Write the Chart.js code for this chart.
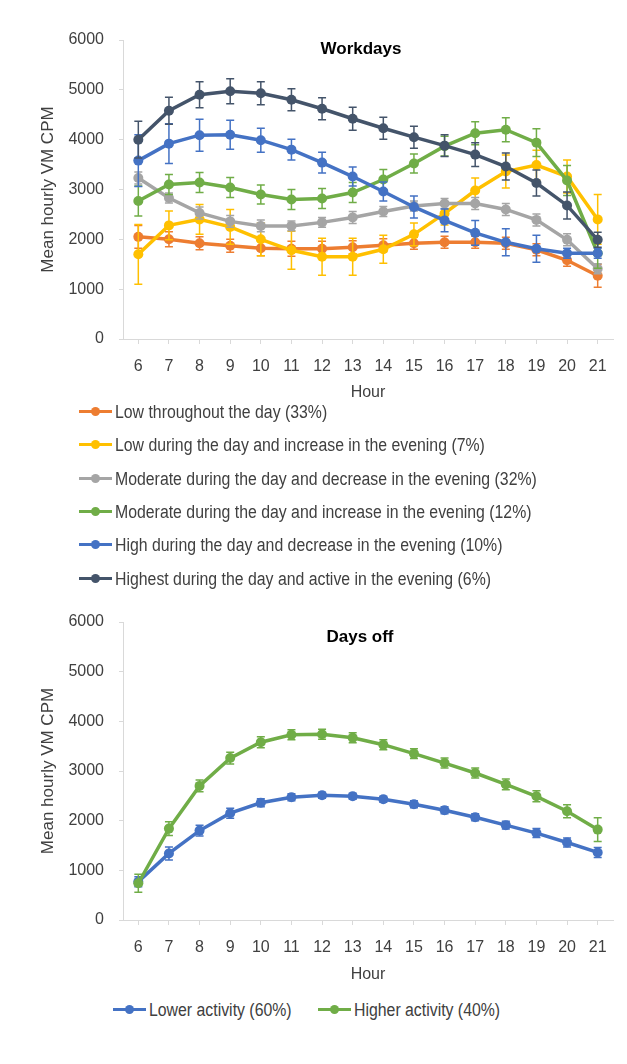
<!DOCTYPE html>
<html>
<head>
<meta charset="utf-8">
<script src="https://cdn.jsdelivr.net/npm/chart.js@4.4.1/dist/chart.umd.min.js"></script>
<style>
  body { margin: 0; background: #fff; width: 627px; height: 1064px; position: relative; overflow: hidden; font-family: "Liberation Sans", Arial, sans-serif; }
  canvas { position: absolute; left: 0; }
  .item { position: absolute; height: 20px; }
  .swatch { position: absolute; left: 0; top: 8px; width: 33px; height: 3px; }
  .dot { position: absolute; top: 5px; width: 9px; height: 9px; border-radius: 50%; }
  .label { position: absolute; top: 0; font-size: 18px; line-height: 20px; color: #404040; white-space: nowrap; transform: scaleX(0.88); transform-origin: left center; }
</style>
</head>
<body>
<canvas id="workChart" width="627" height="404" style="top:0"></canvas>
<div id="workLegend"></div>
<canvas id="offChart" width="627" height="406" style="top:580px"></canvas>
<div id="offLegend"></div>

<script>
// Data
const hours = ['6', '7', '8', '9', '10', '11', '12', '13', '14', '15', '16', '17', '18', '19', '20', '21'];

const workLabels = [
    'Low throughout the day (33%)',
    'Low during the day and increase in the evening (7%)',
    'Moderate during the day and decrease in the evening (32%)',
    'Moderate during the day and increase in the evening (12%)',
    'High during the day and decrease in the evening (10%)',
    'Highest during the day and active in the evening (6%)'
];
const lowAll = [2050, 2000, 1920, 1870, 1820, 1810, 1810, 1840, 1880, 1920, 1940, 1940, 1920, 1790, 1580, 1270];
const lowAllErr = [230, 150, 130, 130, 150, 150, 150, 130, 130, 120, 120, 120, 120, 120, 120, 230];
const lowEve = [1700, 2280, 2400, 2250, 2000, 1780, 1650, 1650, 1800, 2100, 2520, 2980, 3360, 3490, 3260, 2400];
const lowEveErr = [600, 290, 300, 350, 330, 380, 370, 370, 280, 230, 230, 250, 330, 300, 330, 500];
const modDec = [3230, 2830, 2530, 2360, 2270, 2270, 2340, 2440, 2560, 2670, 2720, 2720, 2600, 2390, 1990, 1410];
const modDecErr = [120, 100, 120, 120, 120, 100, 100, 120, 100, 100, 100, 120, 120, 120, 120, 100];
const modInc = [2770, 3100, 3140, 3040, 2900, 2800, 2820, 2940, 3200, 3520, 3870, 4130, 4200, 3940, 3180, 1720];
const modIncErr = [300, 200, 200, 200, 190, 200, 200, 200, 200, 190, 200, 230, 240, 280, 300, 300];
const highDec = [3580, 3920, 4090, 4100, 3990, 3800, 3540, 3260, 2960, 2650, 2380, 2130, 1940, 1810, 1720, 1720];
const highDecErr = [520, 400, 320, 290, 240, 210, 210, 190, 190, 220, 230, 250, 270, 270, 100, 100];
const highest = [4000, 4580, 4900, 4970, 4930, 4800, 4620, 4420, 4230, 4050, 3880, 3700, 3460, 3130, 2680, 1990];
const highestErr = [370, 270, 260, 250, 230, 220, 220, 230, 220, 220, 220, 240, 270, 260, 270, 150];

const offLabels = ['Lower activity (60%)', 'Higher activity (40%)'];
const lower = [770, 1340, 1800, 2150, 2360, 2470, 2510, 2490, 2430, 2330, 2210, 2070, 1910, 1750, 1560, 1360];
const lowerErr = [100, 130, 110, 100, 80, 70, 60, 60, 60, 70, 70, 70, 80, 90, 90, 100];
const higher = [740, 1840, 2700, 3260, 3580, 3730, 3740, 3670, 3530, 3350, 3160, 2960, 2730, 2490, 2190, 1820];
const higherErr = [180, 140, 120, 120, 110, 100, 100, 100, 100, 100, 100, 100, 110, 110, 130, 240];

const yTicks = [0, 1000, 2000, 3000, 4000, 5000, 6000];

const workColors = ['#ED7D31', '#FFC000', '#A5A5A5', '#70AD47', '#4472C4', '#44546A'];
const offColors = ['#4472C4', '#70AD47'];

Chart.defaults.font.family = '"Liberation Sans", Arial, sans-serif';

// error bars drawn right after each series
const errorBars = {
    id: 'errorBars',
    afterDatasetDraw(chart, args) {
        const ds = chart.data.datasets[args.index];
        if (!ds.errors) return;
        const y = chart.scales.y;
        const ctx = chart.ctx;
        ctx.save();
        ctx.strokeStyle = ds.borderColor;
        ctx.lineWidth = 1.5;
        args.meta.data.forEach((pt, i) => {
            const top = y.getPixelForValue(ds.data[i] + ds.errors[i]);
            const bot = y.getPixelForValue(ds.data[i] - ds.errors[i]);
            ctx.beginPath();
            ctx.moveTo(pt.x, top); ctx.lineTo(pt.x, bot);
            ctx.moveTo(pt.x - 4, top); ctx.lineTo(pt.x + 4, top);
            ctx.moveTo(pt.x - 4, bot); ctx.lineTo(pt.x + 4, bot);
            ctx.stroke();
        });
        ctx.restore();
    }
};

// title sits inside the plot area
const panelTitle = {
    id: 'panelTitle',
    afterDraw(chart, args, opts) {
        const a = chart.chartArea;
        const ctx = chart.ctx;
        ctx.save();
        ctx.font = 'bold 17px "Liberation Sans", Arial, sans-serif';
        ctx.fillStyle = '#000';
        ctx.textAlign = 'center';
        ctx.textBaseline = 'middle';
        ctx.fillText(opts.text, (a.left + a.right) / 2 + opts.dx, a.top + opts.dy);
        ctx.restore();
    }
};

function makeDatasets(labels, values, errors, colors) {
    return values.map((v, i) => ({
        label: labels[i],
        data: v,
        errors: errors[i],
        borderColor: colors[i],
        backgroundColor: colors[i],
        pointBackgroundColor: colors[i],
        borderWidth: 3.5,
        pointRadius: 5,
        pointBorderWidth: 0,
        tension: 0,
        order: values.length - i
    }));
}

function makeOptions(title, dx, dy, padTop, xHeight) {
    return {
        responsive: false,
        animation: false,
        layout: { padding: { top: padTop, right: 14, left: 0, bottom: 0 } },
        plugins: {
            legend: { display: false },
            tooltip: { enabled: false },
            panelTitle: { text: title, dx: dx, dy: dy }
        },
        scales: {
            x: {
                offset: true,
                ticks: { color: '#404040', font: { size: 16 }, padding: 13, maxRotation: 0, autoSkip: false },
                grid: { drawOnChartArea: false, drawTicks: true, tickLength: 5, color: '#d9d9d9', offset: false },
                border: { color: '#d9d9d9' },
                title: { display: true, text: 'Hour', color: '#404040', font: { size: 16 }, padding: { top: 0, bottom: 2 } },
                afterFit: s => { s.height = xHeight; }
            },
            y: {
                min: yTicks[0],
                max: yTicks[yTicks.length - 1],
                afterBuildTicks: s => { s.ticks = yTicks.map(v => ({ value: v })); },
                ticks: { color: '#404040', font: { size: 16 }, padding: 15, callback: v => String(v) },
                grid: { drawOnChartArea: false, drawTicks: true, tickLength: 4, color: '#d9d9d9' },
                border: { color: '#d9d9d9' },
                title: { display: true, text: 'Mean hourly VM CPM', color: '#404040', font: { size: 17 }, padding: { top: 38, bottom: 0 } },
                afterFit: s => { s.width = 123; }
            }
        }
    };
}

const workChart = new Chart(document.getElementById('workChart'), {
    type: 'line',
    data: {
        labels: hours,
        datasets: makeDatasets(workLabels,
            [lowAll, lowEve, modDec, modInc, highDec, highest],
            [lowAllErr, lowEveErr, modDecErr, modIncErr, highDecErr, highestErr],
            workColors)
    },
    options: makeOptions('Workdays', -7, 9, 40, 65),
    plugins: [errorBars, panelTitle]
});

const offChart = new Chart(document.getElementById('offChart'), {
    type: 'line',
    data: {
        labels: hours,
        datasets: makeDatasets(offLabels, [lower, higher], [lowerErr, higherErr], offColors)
    },
    options: makeOptions('Days off', -8, 15, 42, 66),
    plugins: [errorBars, panelTitle]
});

// HTML legends built from the chart datasets
function buildLegend(chart, boxId, positions) {
    const box = document.getElementById(boxId);
    chart.data.datasets.forEach((ds, i) => {
        const p = positions[i];
        const item = document.createElement('div');
        item.className = 'item';
        item.style.left = p.x + 'px';
        item.style.top = (p.y - 10) + 'px';
        item.innerHTML =
            `<span class="swatch" style="background:${ds.borderColor}"></span>` +
            `<span class="dot" style="left:12px;background:${ds.borderColor}"></span>` +
            `<span class="label" style="left:36px">${ds.label}</span>`;
        box.appendChild(item);
    });
}

buildLegend(workChart, 'workLegend', [0, 1, 2, 3, 4, 5].map(i => ({ x: 79, y: 412 + i * 33.3 })));
buildLegend(offChart, 'offLegend', [{ x: 113, y: 1010 }, { x: 318, y: 1010 }]);
</script>
</body>
</html>
